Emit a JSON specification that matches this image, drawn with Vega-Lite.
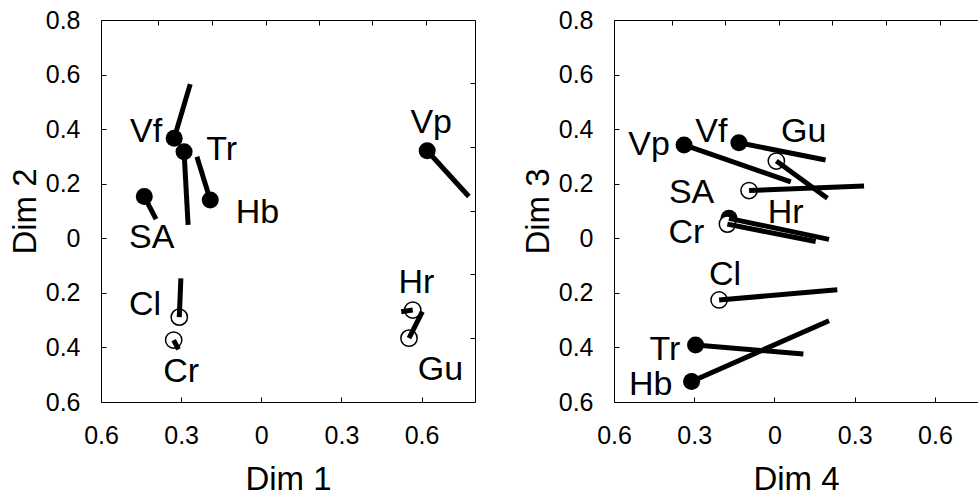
{
  "$schema": "https://vega.github.io/schema/vega-lite/v6.json",
  "padding": {"left": 9, "top": 8, "right": 0, "bottom": 0},
  "background": "white",
  "bounds": "flush",
  "spacing": 139,
  "config": {
    "font": "Liberation Sans",
    "view": {"stroke": null},
    "axis": {
      "grid": false,
      "domainColor": "black",
      "domainWidth": 1,
      "tickColor": "black",
      "tickWidth": 1,
      "tickSize": -5,
      "labelColor": "black",
      "labelFont": "Liberation Sans",
      "labelFontSize": 25,
      "titleFont": "Liberation Sans",
      "titleFontSize": 33,
      "titleFontWeight": "normal",
      "titleColor": "black",
      "labelFlush": false,
      "labelOverlap": false
    }
  },
  "datasets": {
    "dim12": [
      {"name": "Vf", "x": -0.326, "y": 0.367, "xEnd": -0.266, "yEnd": 0.565, "labelX": -0.431, "labelY": 0.354, "filled": true},
      {"name": "Tr", "x": -0.289, "y": 0.317, "xEnd": -0.274, "yEnd": 0.049, "labelX": -0.148, "labelY": 0.287, "filled": true},
      {"name": "Hb", "x": -0.191, "y": 0.140, "xEnd": -0.241, "yEnd": 0.299, "labelX": -0.014, "labelY": 0.055, "filled": true},
      {"name": "SA", "x": -0.438, "y": 0.153, "xEnd": -0.394, "yEnd": 0.070, "labelX": -0.410, "labelY": -0.035, "filled": true},
      {"name": "Vp", "x": 0.621, "y": 0.321, "xEnd": 0.777, "yEnd": 0.153, "labelX": 0.636, "labelY": 0.385, "filled": true},
      {"name": "Cl", "x": -0.307, "y": -0.289, "xEnd": -0.301, "yEnd": -0.147, "labelX": -0.435, "labelY": -0.281, "filled": false},
      {"name": "Cr", "x": -0.328, "y": -0.373, "xEnd": -0.310, "yEnd": -0.407, "labelX": -0.300, "labelY": -0.525, "filled": false},
      {"name": "Hr", "x": 0.567, "y": -0.263, "xEnd": 0.524, "yEnd": -0.269, "labelX": 0.581, "labelY": -0.201, "filled": false},
      {"name": "Gu", "x": 0.553, "y": -0.366, "xEnd": 0.603, "yEnd": -0.269, "labelX": 0.671, "labelY": -0.519, "filled": false}
    ],
    "dim43": [
      {"name": "Vp", "x": -0.338, "y": 0.342, "xEnd": 0.061, "yEnd": 0.207, "labelX": -0.469, "labelY": 0.305, "filled": true},
      {"name": "Vf", "x": -0.133, "y": 0.350, "xEnd": 0.191, "yEnd": 0.287, "labelX": -0.236, "labelY": 0.354, "filled": true},
      {"name": "Gu", "x": 0.007, "y": 0.283, "xEnd": 0.198, "yEnd": 0.147, "labelX": 0.109, "labelY": 0.354, "filled": false},
      {"name": "SA", "x": -0.095, "y": 0.175, "xEnd": 0.335, "yEnd": 0.192, "labelX": -0.310, "labelY": 0.128, "filled": false},
      {"name": "Hr", "x": -0.170, "y": 0.073, "xEnd": 0.204, "yEnd": -0.004, "labelX": 0.042, "labelY": 0.055, "filled": true},
      {"name": "Cr", "x": -0.176, "y": 0.052, "xEnd": 0.154, "yEnd": -0.012, "labelX": -0.329, "labelY": -0.018, "filled": false},
      {"name": "Cl", "x": -0.207, "y": -0.226, "xEnd": 0.235, "yEnd": -0.189, "labelX": -0.185, "labelY": -0.171, "filled": false},
      {"name": "Tr", "x": -0.295, "y": -0.391, "xEnd": 0.108, "yEnd": -0.424, "labelX": -0.410, "labelY": -0.446, "filled": true},
      {"name": "Hb", "x": -0.310, "y": -0.525, "xEnd": 0.204, "yEnd": -0.302, "labelX": -0.463, "labelY": -0.574, "filled": true}
    ]
  },
  "hconcat": [
    {
      "width": 374,
      "height": 382,
      "data": {"name": "dim12"},
      "layer": [
        {
          "transform": [{"filter": "datum.filled"}],
          "mark": {"type": "point", "shape": "circle", "filled": true, "size": 290, "color": "black", "opacity": 1},
          "encoding": {
            "x": {"field": "x", "type": "quantitative", "scale": {"domain": [-0.6, 0.8], "nice": false, "zero": false},
                  "axis": {"orient": "bottom", "values": [-0.6, -0.3, 0, 0.3, 0.6], "labelExpr": "datum.value == 0 ? '0' : format(abs(datum.value), '.1f')", "title": "Dim 1", "labelPadding": 26, "titlePadding": 15}},
            "y": {"field": "y", "type": "quantitative", "scale": {"domain": [-0.6, 0.8], "nice": false, "zero": false},
                  "axis": {"orient": "left", "values": [-0.6, -0.4, -0.2, 0, 0.2, 0.4, 0.6, 0.8], "labelExpr": "datum.value == 0 ? '0' : format(abs(datum.value), '.1f')", "title": "Dim 2", "labelPadding": 26, "titlePadding": 3}}
          }
        },
        {
          "transform": [{"filter": "!datum.filled"}],
          "mark": {"type": "point", "shape": "circle", "filled": true, "fill": "white", "stroke": "black", "strokeWidth": 1.5, "size": 265, "opacity": 1},
          "encoding": {
            "x": {"field": "x", "type": "quantitative", "scale": {"domain": [-0.6, 0.8], "nice": false, "zero": false}, "axis": null},
            "y": {"field": "y", "type": "quantitative", "scale": {"domain": [-0.6, 0.8], "nice": false, "zero": false}, "axis": null}
          }
        },
        {
          "mark": {"type": "rule", "strokeWidth": 5, "color": "black", "strokeCap": "butt"},
          "encoding": {
            "x": {"field": "x", "type": "quantitative", "scale": {"domain": [-0.6, 0.8], "nice": false, "zero": false}, "axis": null},
            "y": {"field": "y", "type": "quantitative", "scale": {"domain": [-0.6, 0.8], "nice": false, "zero": false}, "axis": null},
            "x2": {"field": "xEnd"},
            "y2": {"field": "yEnd"}
          }
        },
        {
          "mark": {"type": "text", "fontSize": 34, "align": "center", "baseline": "alphabetic", "font": "Liberation Sans", "color": "black"},
          "encoding": {
            "x": {"field": "labelX", "type": "quantitative", "scale": {"domain": [-0.6, 0.8], "nice": false, "zero": false}, "axis": null},
            "y": {"field": "labelY", "type": "quantitative", "scale": {"domain": [-0.6, 0.8], "nice": false, "zero": false}, "axis": null},
            "text": {"field": "name"}
          }
        },
        {
          "mark": {"type": "point", "opacity": 0},
          "encoding": {
            "x": {"field": "x", "type": "quantitative", "scale": {"domain": [-0.6, 0.8], "nice": false, "zero": false},
                  "axis": {"orient": "top", "values": [-0.388, -0.186, 0.016, 0.216, 0.416, 0.618], "labels": false, "title": null}},
            "y": {"field": "y", "type": "quantitative", "scale": {"domain": [-0.6, 0.8], "nice": false, "zero": false},
                  "axis": {"orient": "right", "values": [0.569, 0.336, 0.101, -0.131, -0.365], "labels": false, "title": null}}
          }
        }
      ],
      "resolve": {"axis": {"x": "independent", "y": "independent"}}
    },
    {
      "width": 364,
      "height": 382,
      "data": {"name": "dim43"},
      "layer": [
        {
          "transform": [{"filter": "datum.filled"}],
          "mark": {"type": "point", "shape": "circle", "filled": true, "size": 290, "color": "black", "opacity": 1},
          "encoding": {
            "x": {"field": "x", "type": "quantitative", "scale": {"domain": [-0.6, 0.761], "nice": false, "zero": false},
                  "axis": {"orient": "bottom", "values": [-0.6, -0.3, 0, 0.3, 0.6], "labelExpr": "datum.value == 0 ? '0' : format(abs(datum.value), '.1f')", "title": "Dim 4", "labelPadding": 26, "titlePadding": 15}},
            "y": {"field": "y", "type": "quantitative", "scale": {"domain": [-0.6, 0.8], "nice": false, "zero": false},
                  "axis": {"orient": "left", "values": [-0.6, -0.4, -0.2, 0, 0.2, 0.4, 0.6, 0.8], "labelExpr": "datum.value == 0 ? '0' : format(abs(datum.value), '.1f')", "title": "Dim 3", "labelPadding": 26, "titlePadding": 3}}
          }
        },
        {
          "transform": [{"filter": "!datum.filled"}],
          "mark": {"type": "point", "shape": "circle", "filled": true, "fill": "white", "stroke": "black", "strokeWidth": 1.5, "size": 265, "opacity": 1},
          "encoding": {
            "x": {"field": "x", "type": "quantitative", "scale": {"domain": [-0.6, 0.761], "nice": false, "zero": false}, "axis": null},
            "y": {"field": "y", "type": "quantitative", "scale": {"domain": [-0.6, 0.8], "nice": false, "zero": false}, "axis": null}
          }
        },
        {
          "mark": {"type": "rule", "strokeWidth": 5, "color": "black", "strokeCap": "butt"},
          "encoding": {
            "x": {"field": "x", "type": "quantitative", "scale": {"domain": [-0.6, 0.761], "nice": false, "zero": false}, "axis": null},
            "y": {"field": "y", "type": "quantitative", "scale": {"domain": [-0.6, 0.8], "nice": false, "zero": false}, "axis": null},
            "x2": {"field": "xEnd"},
            "y2": {"field": "yEnd"}
          }
        },
        {
          "mark": {"type": "text", "fontSize": 34, "align": "center", "baseline": "alphabetic", "font": "Liberation Sans", "color": "black"},
          "encoding": {
            "x": {"field": "labelX", "type": "quantitative", "scale": {"domain": [-0.6, 0.761], "nice": false, "zero": false}, "axis": null},
            "y": {"field": "labelY", "type": "quantitative", "scale": {"domain": [-0.6, 0.8], "nice": false, "zero": false}, "axis": null},
            "text": {"field": "name"}
          }
        },
        {
          "mark": {"type": "point", "opacity": 0},
          "encoding": {
            "x": {"field": "x", "type": "quantitative", "scale": {"domain": [-0.6, 0.761], "nice": false, "zero": false},
                  "axis": {"orient": "top", "values": [-0.385, -0.184, 0.017, 0.216, 0.416, 0.618], "labels": false, "title": null}},
            "y": {"field": "y", "type": "quantitative", "scale": {"domain": [-0.6, 0.8], "nice": false, "zero": false}, "axis": null}
          }
        }
      ],
      "resolve": {"axis": {"x": "independent", "y": "independent"}}
    }
  ]
}
